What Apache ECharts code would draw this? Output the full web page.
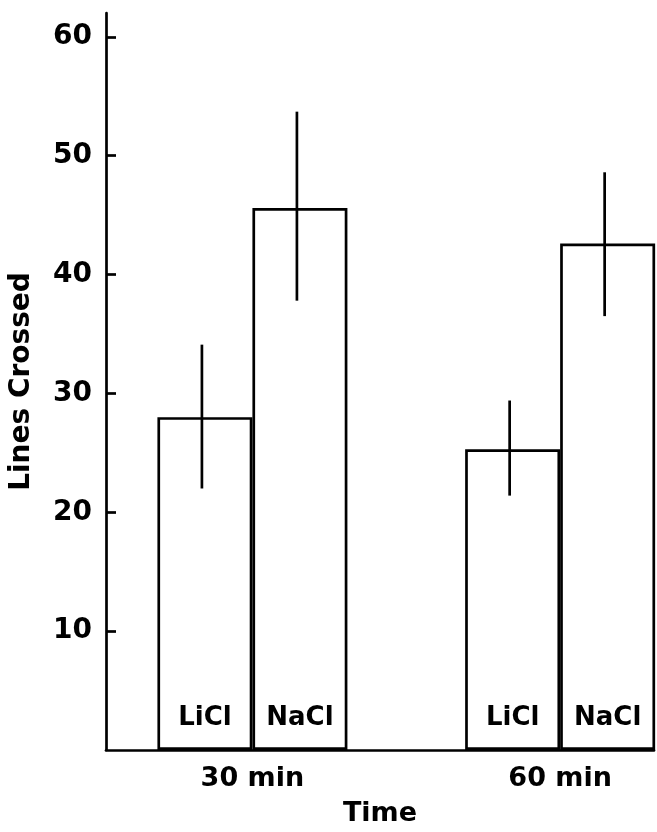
<!DOCTYPE html>
<html>
<head>
<meta charset="utf-8">
<script src="https://cdn.jsdelivr.net/npm/echarts@6/dist/echarts.min.js"></script>
<style>
html,body{margin:0;padding:0;background:#fff;}
#chart{width:657px;height:832px;}
</style>
</head>
<body>
<div id="chart"></div>
<script>
// ---- data ----
const categories = ['30 min', '60 min'];
const groupPos = [1, 2];
const seriesNames = ['LiCl', 'NaCl'];
const liclMean = [28.0, 25.3];
const liclLow = [22.0, 21.4];
const liclHigh = [34.1, 29.4];
const naclMean = [45.6, 42.6];
const naclLow = [37.8, 36.5];
const naclHigh = [53.7, 48.6];
const yTicks = [10, 20, 30, 40, 50, 60];

// ---- style ----
const FONT = 'DejaVu Sans';
const BAR_W = 95;
const INK = '#000';
const LW = 2.7;

const chart = echarts.init(document.getElementById('chart'), null, {renderer: 'canvas'});

function barData(means) {
  return groupPos.map((x, i) => [x, means[i]]);
}
function errData(lows, highs) {
  return groupPos.map((x, i) => [x, lows[i], highs[i]]);
}
function errSeries(lows, highs, side) {
  return {
    type: 'custom',
    data: errData(lows, highs),
    z: 5,
    renderItem: function (params, api) {
      const x = api.value(0);
      const lo = api.coord([x, api.value(1)]);
      const hi = api.coord([x, api.value(2)]);
      const px = lo[0] + side * BAR_W / 2 - 3;
      return {
        type: 'line',
        shape: {x1: px, y1: lo[1], x2: px, y2: hi[1]},
        style: {stroke: INK, lineWidth: LW}
      };
    }
  };
}

const barLabel = (name) => ({
  show: true,
  position: 'insideBottom',
  distance: 19,
  formatter: name,
  color: INK,
  fontFamily: FONT,
  fontWeight: 'bold',
  fontSize: 26
});

const option = {
  backgroundColor: '#fff',
  animation: false,
  grid: {left: 105, right: 3, top: 13, bottom: 75, containLabel: false},
  xAxis: {
    type: 'value',
    min: 0.5242,
    max: 2.305,
    name: 'Time',
    nameLocation: 'middle',
    nameGap: 50,
    nameTextStyle: {color: INK, fontFamily: FONT, fontWeight: 'bold', fontSize: 27},
    axisLine: {show: true, onZero: false, lineStyle: {color: INK, width: LW}},
    axisTick: {show: false},
    splitLine: {show: false},
    axisLabel: {
      customValues: groupPos,
      formatter: function (v) {
        const i = groupPos.indexOf(Math.round(v));
        return i >= 0 ? categories[i] : '';
      },
      margin: 15,
      color: INK, fontFamily: FONT, fontWeight: 'bold', fontSize: 27
    }
  },
  yAxis: {
    type: 'value',
    min: 0,
    max: 62,
    name: 'Lines Crossed',
    nameLocation: 'middle',
    nameGap: 70,
    nameTextStyle: {color: INK, fontFamily: FONT, fontWeight: 'bold', fontSize: 28},
    axisLine: {show: true, lineStyle: {color: INK, width: LW}},
    axisTick: {show: true, inside: true, length: 10, customValues: yTicks, lineStyle: {color: INK, width: LW}},
    splitLine: {show: false},
    axisLabel: {
      customValues: yTicks,
      margin: 14,
      color: INK, fontFamily: FONT, fontWeight: 'bold', fontSize: 28
    }
  },
  series: [
    {
      name: seriesNames[0],
      type: 'bar',
      data: barData(liclMean),
      barWidth: BAR_W,
      barGap: '0%',
      itemStyle: {color: '#fff', borderColor: INK, borderWidth: LW},
      label: barLabel(seriesNames[0])
    },
    {
      name: seriesNames[1],
      type: 'bar',
      data: barData(naclMean),
      barWidth: BAR_W,
      barGap: '0%',
      itemStyle: {color: '#fff', borderColor: INK, borderWidth: LW},
      label: barLabel(seriesNames[1])
    },
    errSeries(liclLow, liclHigh, -1),
    errSeries(naclLow, naclHigh, 1)
  ]
};
chart.setOption(option);
</script>
</body>
</html>
